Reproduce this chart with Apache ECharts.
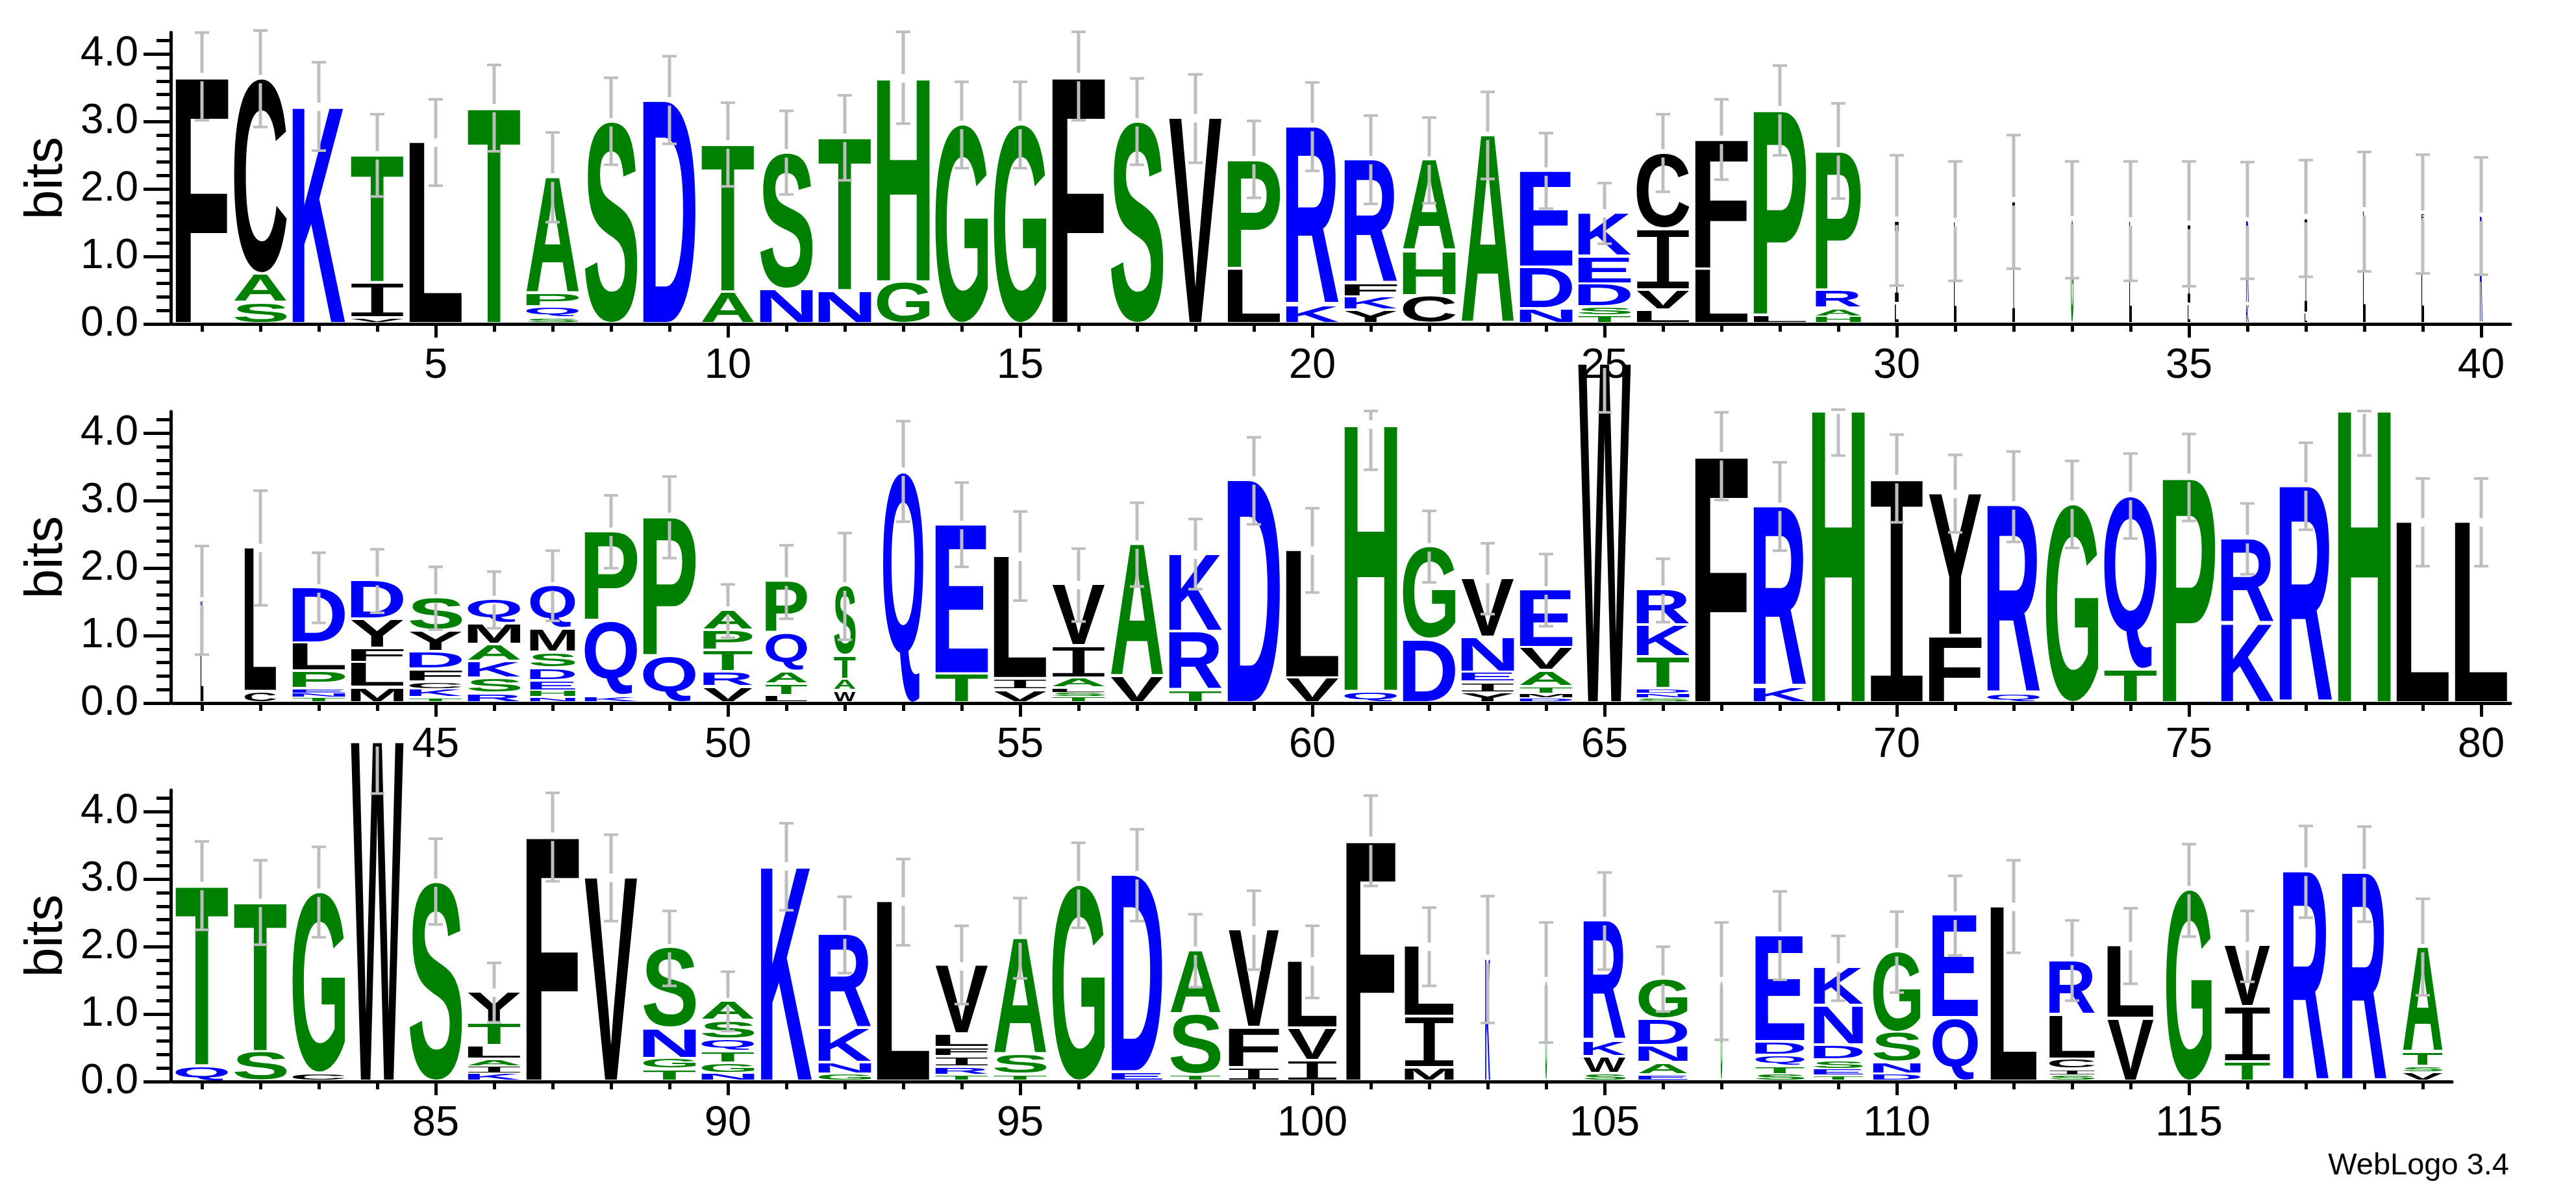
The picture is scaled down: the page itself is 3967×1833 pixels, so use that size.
<!DOCTYPE html>
<html>
<head>
<meta charset="utf-8">
<script src="https://cdn.jsdelivr.net/npm/echarts@6/dist/echarts.min.js"></script>
<style>
html,body{margin:0;padding:0;background:#ffffff;}
#chart{width:3967px;height:1833px;}
</style>
</head>
<body>
<div id="chart"></div>
<script>
// ---------------- data read from the reference logo ----------------
// letters of each stack, bottom to top (position 1..119)
const stackLetters = [
  'F','SAC','K','VIT','L','T','SQPA','S','D','AT',
  'NS','NT','GH','G','G','F','S','V','LP','KR',
  'YKFR','CHA','A','NDE','TSDEK','LVIC','LF','LP','HARP','LI',
  'L','I','G','L','LI','KR','LI','L','LF','R',
  'LK','CL','TNEPLD','MLFYD','TKCFDYS','RSKAMQ','NHEDSMQ','KQP','QP','VRTPA',
  'LTAQP','WATS','Q','TE','VIL','TSLAIV','VA','TRK','D','VL',
  'QH','DG','YIENV','DMTAVE','W','SNDTKR','F','KR','H','I',
  'FY','QR','G','TQ','P','KR','R','H','L','L',
  'QT','ST','CG','W','S','KIALTY','F','V','TGNS','NGTQSA',
  'K','GNKR','L','TRIFLV','TSA','G','ED','TSA','IFV','IVL',
  'F','MIL','K','G','SWKR','EANDG','G','STQDE','TESDNK','DNSG',
  'QE','L','SICLR','VL','G','TIV','R','R','VSTA'
];
// information (bits) of each letter, same order as stackLetters
const stackBits = [
  [3.63],[0.28,0.42,2.90],[3.19],[0.05,0.52,1.90],[2.66],[3.17],[0.05,0.16,0.20,1.73],[2.96],[3.27],[0.43,2.20],
  [0.47,2.03],[0.45,2.28],[0.58,3.03],[2.92],[2.92],[3.63],[2.96],[3.02],[0.78,1.62],[0.24,2.65],
  [0.16,0.20,0.20,1.84],[0.38,0.66,1.35],[2.76],[0.18,0.62,1.43],[0.08,0.13,0.34,0.41,0.65],[0.16,0.30,0.91,1.13],[0.77,1.93],[0.09,3.05],[0.07,0.12,0.27,2.07],[0.26,1.24],
  [1.48],[1.79],[1.51],[1.49],[0.25,1.19],[0.25,1.24],[0.12,1.42],[1.64],[1.50,0.09],[1.56],
  [1.38,0.10],[0.13,2.14],[0.05,0.06,0.06,0.26,0.42,0.82],[0.19,0.37,0.21,0.43,0.58],[0.04,0.13,0.10,0.19,0.26,0.31,0.49],[0.10,0.23,0.25,0.25,0.31,0.36],[0.05,0.09,0.15,0.19,0.23,0.35,0.64],[0.06,1.12,1.33],[0.66,2.07],[0.20,0.22,0.32,0.30,0.30],
  [0.07,0.17,0.19,0.57,0.77],[0.14,0.17,0.35,1.04],[3.40],[0.39,2.22],[0.15,0.17,1.82],[0.06,0.06,0.06,0.15,0.48,0.91],[0.35,1.97],[0.15,0.87,1.15],[3.27],[0.33,1.90],
  [0.13,3.97],[0.90,1.38],[0.11,0.16,0.14,0.52,0.88],[0.04,0.06,0.10,0.24,0.34,0.86],[5.00],[0.04,0.07,0.06,0.47,0.47,0.54],[3.63],[0.20,2.68],[4.32],[3.29],
  [0.96,2.11],[0.10,2.80],[2.91],[0.46,2.58],[3.31],[1.14,1.26],[3.18],[4.32],[2.65],[2.65],
  [0.19,2.68],[0.40,2.22],[0.08,2.69],[5.00],[2.92],[0.08,0.11,0.10,0.20,0.33,0.47],[3.60],[2.99],[0.14,0.16,0.45,1.20],[0.08,0.15,0.17,0.18,0.28,0.29],
  [3.16],[0.07,0.17,0.51,1.40],[2.64],[0.06,0.11,0.16,0.13,0.20,1.02],[0.06,0.30,1.73],[2.88],[0.10,2.93],[0.06,0.90,0.95],[0.16,0.60,1.45],[0.27,0.48,1.00],
  [3.54],[0.16,0.76,1.05],[1.79],[1.46],[0.08,0.25,0.24,1.78],[0.06,0.18,0.25,0.40,0.59],[1.46],[0.07,0.12,0.16,0.20,1.58],[0.05,0.09,0.14,0.22,0.59,0.57],[0.07,0.17,0.45,1.20],
  [0.90,1.53],[2.56],[0.06,0.08,0.15,0.66,0.81],[0.89,1.09],[2.81],[0.25,0.82,0.91],[3.08],[3.06],[0.10,0.08,0.21,1.56]
];
// stack width as a fraction of one position (occupancy)
const colWidth = [
  0.9,0.9,0.9,0.9,0.9,0.9,0.9,0.9,0.9,0.9,
  0.9,0.9,0.9,0.9,0.9,0.9,0.9,0.9,0.9,0.9,
  0.9,0.9,0.9,0.9,0.9,0.9,0.9,0.9,0.77,0.065,
  0.045,0.045,0.045,0.045,0.045,0.045,0.045,0.045,0.045,0.045,
  0.05,0.54,0.9,0.9,0.9,0.9,0.77,0.9,0.9,0.84,
  0.71,0.37,0.69,0.9,0.9,0.9,0.9,0.9,0.9,0.9,
  0.9,0.9,0.9,0.9,0.9,0.9,0.9,0.9,0.9,0.9,
  0.9,0.9,0.9,0.9,0.9,0.9,0.9,0.9,0.9,0.9,
  0.9,0.9,0.9,0.9,0.9,0.9,0.9,0.9,0.9,0.9,
  0.87,0.9,0.9,0.9,0.9,0.9,0.87,0.86,0.86,0.84,
  0.84,0.84,0.085,0.03,0.72,0.84,0.03,0.84,0.84,0.81,
  0.78,0.79,0.78,0.79,0.78,0.78,0.78,0.76,0.68
];
// error bar ends (bits)
const errLow = [
  2.99,2.89,2.54,1.86,2.02,2.53,1.48,2.33,2.64,2.01,
  1.89,2.10,2.94,2.28,2.28,2.99,2.33,2.36,1.84,2.24,
  1.75,1.76,2.12,1.68,1.16,1.93,2.11,2.47,1.83,0.54,
  0.61,0.79,0.65,0.61,0.53,0.64,0.67,0.75,0.72,0.70,
  0.69,1.42,1.16,1.31,1.06,1.08,1.19,1.97,2.12,0.94,
  1.22,0.91,2.66,1.99,1.49,1.18,1.70,1.66,2.62,1.61,
  3.43,1.76,1.29,1.11,4.28,1.17,2.98,2.23,3.64,2.65,
  2.50,2.36,2.27,2.41,2.67,1.88,2.54,3.64,2.00,2.00,
  2.22,2.00,2.11,4.24,2.30,0.85,2.94,2.35,1.39,0.72,
  2.51,1.58,1.99,1.12,1.50,2.25,2.35,1.37,1.63,1.21,
  2.87,1.39,0.84,0.55,1.63,1.01,0.59,1.48,1.17,1.29,
  1.84,1.88,1.17,1.42,2.12,1.45,2.40,2.34,1.25
];
const errHigh = [
  4.29,4.32,3.85,3.08,3.30,3.81,2.81,3.62,3.94,3.25,
  3.13,3.36,4.30,3.56,3.56,4.30,3.61,3.67,2.98,3.55,
  3.06,3.03,3.41,2.80,2.06,3.08,3.30,3.80,3.24,2.47,
  2.38,2.77,2.38,2.38,2.38,2.37,2.40,2.52,2.48,2.44,
  2.30,3.12,2.20,2.25,1.99,1.92,2.23,3.05,3.33,1.73,
  2.31,2.49,4.15,3.24,2.81,2.26,2.94,2.70,3.91,2.86,
  4.30,2.82,2.34,2.18,5.00,2.11,4.28,3.54,4.32,3.95,
  3.65,3.70,3.56,3.67,3.96,2.93,3.83,4.30,3.30,3.30,
  3.53,3.25,3.45,5.00,3.57,1.73,4.25,3.63,2.50,1.60,
  3.80,2.71,3.27,2.28,2.69,3.51,3.71,2.45,2.80,2.28,
  4.21,2.55,2.72,2.33,3.07,1.97,2.33,2.79,2.13,2.49,
  3.02,3.25,2.36,2.54,3.49,2.50,3.76,3.75,2.68
];
const rowStart = [1, 41, 81];
const rowEnd = [40, 80, 119];
const xTickLabels = [
  [5,10,15,20,25,30,35,40],
  [45,50,55,60,65,70,75,80],
  [85,90,95,100,105,110,115]
];
const yTickLabels = [0, 1, 2, 3, 4];
const yMinorTicks = [0.2,0.4,0.6,0.8,1.2,1.4,1.6,1.8,2.2,2.4,2.6,2.8,3.2,3.4,3.6,3.8,4.2];
const yMax = 4.32;
const groupColors = {RKDENQ: '#0000ff', SGHTAP: '#008000', YVMCLFIW: '#000000'};

// ---------------- layout / style ----------------
const GRID_LEFT = 266;
const POS_W = 90;
const PLOT_H = 449;
const ROW_BASE = [499, 1083, 1666];
const FONT_FAMILY = '"Liberation Sans", Arial, Helvetica, sans-serif';
const LETTER_SIZE = 200;
const LIFT = 3;
const LETTER_GAP = 4;
const ERR_COLOR = '#bebebe';
const ERR_GAP = 6.5;

function letterColor(ch) {
  for (const k in groupColors) if (k.indexOf(ch) >= 0) return groupColors[k];
  return '#000';
}
// the logo's "I" carries serifs; a monospace face gives that shape
function letterFace(ch) {
  if (ch === 'I') return {weight: 'normal', family: '"Liberation Mono"'};
  return {weight: 'bold', family: '"Liberation Sans"'};
}

const mctx = document.createElement('canvas').getContext('2d');
const metricCache = {};
function glyphMetrics(ch) {
  if (!metricCache[ch]) {
    const f = letterFace(ch);
    mctx.font = f.weight + ' ' + LETTER_SIZE + 'px ' + f.family;
    mctx.textAlign = 'center';
    mctx.textBaseline = 'middle';
    const m = mctx.measureText(ch);
    metricCache[ch] = {
      l: m.actualBoundingBoxLeft, r: m.actualBoundingBoxRight,
      a: m.actualBoundingBoxAscent, d: m.actualBoundingBoxDescent
    };
  }
  return metricCache[ch];
}

function renderStack(params, api) {
  const p = api.value(0);
  const i = p - 1;
  const letters = stackLetters[i];
  const bits = stackBits[i];
  const unit = api.size([1, 0])[0];
  const w = unit * colWidth[i];
  const cx = api.coord([p, 0])[0];
  const children = [];
  let cum = 0;
  for (let k = 0; k < letters.length; k++) {
    const ch = letters[k];
    const yb = api.coord([p, cum])[1] - LIFT;
    cum += bits[k];
    const yt = api.coord([p, cum])[1] - LIFT;
    const h = yb - yt;
    const gap = k === 0 ? 0 : Math.min(LETTER_GAP, h * 0.25);
    const hh = h - gap;
    if (hh < 0.4) continue;
    const g = glyphMetrics(ch);
    const f = letterFace(ch);
    const sx = w / (g.l + g.r);
    const sy = hh / (g.a + g.d);
    children.push({
      type: 'text', silent: true,
      x: cx - w / 2 + g.l * sx, y: yt + g.a * sy,
      scaleX: sx, scaleY: sy,
      style: {
        text: ch, fill: letterColor(ch),
        fontWeight: f.weight, fontSize: LETTER_SIZE, fontFamily: f.family,
        align: 'center', verticalAlign: 'middle'
      }
    });
  }
  // error bar
  const yc = api.coord([p, cum])[1] - LIFT;
  const yl = api.coord([p, errLow[i]])[1] - LIFT;
  const yh = api.coord([p, errHigh[i]])[1] - LIFT;
  const bar = {stroke: ERR_COLOR, lineWidth: 5};
  const cap = {stroke: ERR_COLOR, lineWidth: 4};
  if (yl - yc > ERR_GAP) {
    children.push({type: 'line', silent: true, shape: {x1: cx, y1: yc + ERR_GAP, x2: cx, y2: yl}, style: bar});
  }
  if (yc - yh > ERR_GAP) {
    children.push({type: 'line', silent: true, shape: {x1: cx, y1: yc - ERR_GAP, x2: cx, y2: yh}, style: bar});
  }
  children.push({type: 'line', silent: true, shape: {x1: cx - 11, y1: yl, x2: cx + 11, y2: yl}, style: cap});
  if (errHigh[i] <= yMax + 0.001) {
    children.push({type: 'line', silent: true, shape: {x1: cx - 11, y1: yh, x2: cx + 11, y2: yh}, style: cap});
  }
  return {type: 'group', children: children};
}

const grids = [], xAxes = [], yAxes = [], series = [], graphics = [];
for (let r = 0; r < 3; r++) {
  const n = rowEnd[r] - rowStart[r] + 1;
  grids.push({left: GRID_LEFT, top: ROW_BASE[r] - PLOT_H, width: POS_W * n, height: PLOT_H, outerBoundsMode: 'none', containLabel: false});
  const positions = [];
  for (let p = rowStart[r]; p <= rowEnd[r]; p++) positions.push(p);
  const minX = rowStart[r] - 0.5, maxX = rowEnd[r] + 0.5;
  xAxes.push({
    type: 'value', gridIndex: r, min: minX, max: maxX, position: 'bottom',
    axisLine: {show: true, onZero: false, lineStyle: {color: '#000', width: 5}},
    axisTick: {show: true, length: 12, customValues: positions, lineStyle: {color: '#000', width: 5}},
    axisLabel: {show: false}, splitLine: {show: false}
  });
  xAxes.push({
    type: 'value', gridIndex: r, min: minX, max: maxX, position: 'bottom',
    axisLine: {show: false, onZero: false},
    axisTick: {show: true, length: 21, customValues: xTickLabels[r], lineStyle: {color: '#000', width: 5}},
    axisLabel: {show: true, customValues: xTickLabels[r], color: '#000', fontSize: 65, fontFamily: FONT_FAMILY, margin: 33},
    splitLine: {show: false}
  });
  yAxes.push({
    type: 'value', gridIndex: r, min: 0, max: yMax, position: 'left', offset: 3,
    axisLine: {show: true, lineStyle: {color: '#000', width: 5}},
    axisTick: {show: true, length: 42, customValues: yTickLabels, lineStyle: {color: '#000', width: 5}},
    axisLabel: {show: true, customValues: yTickLabels, formatter: v => Number(v).toFixed(1), color: '#000', fontSize: 64, fontFamily: FONT_FAMILY, margin: 50},
    splitLine: {show: false}
  });
  yAxes.push({
    type: 'value', gridIndex: r, min: 0, max: yMax, position: 'left', offset: 3,
    axisLine: {show: false},
    axisTick: {show: true, length: 22, customValues: yMinorTicks, lineStyle: {color: '#000', width: 5}},
    axisLabel: {show: false}, splitLine: {show: false}
  });
  series.push({
    type: 'custom', name: 'row' + (r + 1),
    xAxisIndex: 2 * r, yAxisIndex: 2 * r,
    clip: false, silent: true,
    renderItem: renderStack,
    encode: {x: 0, y: 1},
    data: positions.map(p => [p, stackBits[p - 1].reduce((a, b) => a + b, 0)])
  });
  graphics.push({
    type: 'text', x: 72, y: ROW_BASE[r] - PLOT_H / 2, rotation: Math.PI / 2, silent: true,
    style: {text: 'bits', fill: '#000', fontSize: 82, fontFamily: FONT_FAMILY, align: 'center', verticalAlign: 'middle'}
  });
}
graphics.push({
  type: 'text', x: 3864, y: 1796, silent: true,
  style: {text: 'WebLogo 3.4', fill: '#000', fontSize: 47, fontFamily: FONT_FAMILY, align: 'right', verticalAlign: 'middle'}
});

const chart = echarts.init(document.getElementById('chart'), null, {renderer: 'canvas'});
chart.setOption({
  backgroundColor: '#ffffff',
  animation: false,
  grid: grids,
  xAxis: xAxes,
  yAxis: yAxes,
  series: series,
  graphic: graphics
});
</script>
</body>
</html>
